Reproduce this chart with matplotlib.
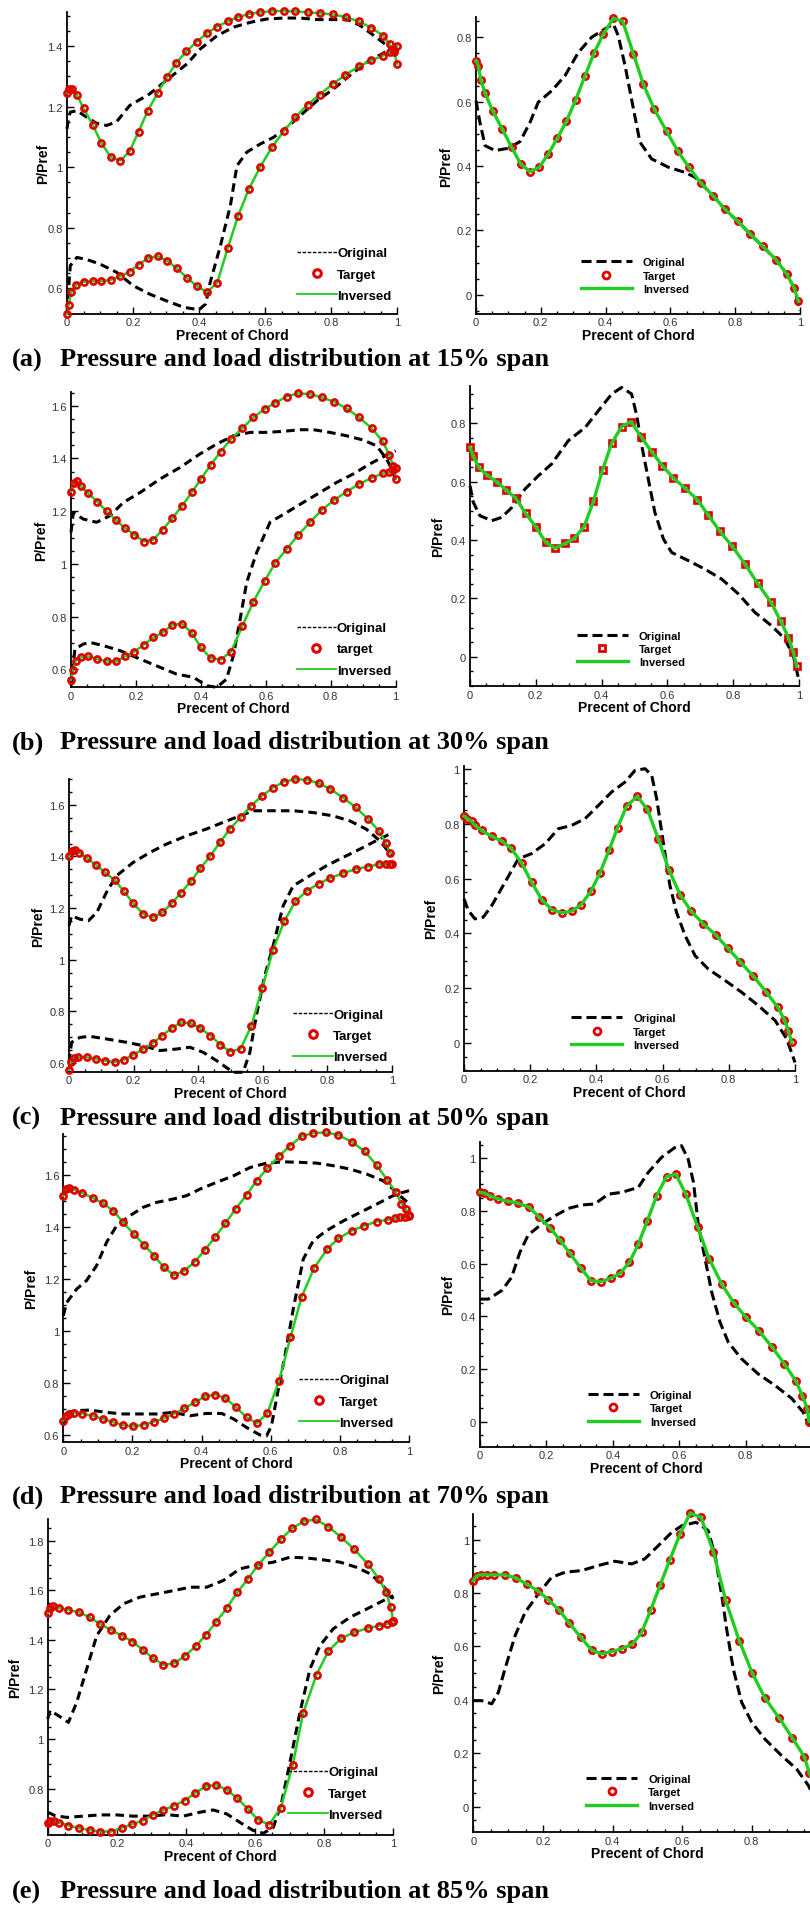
import matplotlib
matplotlib.use("Agg")
import matplotlib.pyplot as plt
from matplotlib.lines import Line2D
from matplotlib.ticker import MultipleLocator, FuncFormatter

plt.rcParams['font.family'] = ['Liberation Sans', 'DejaVu Sans']

RED = '#e00000'
GREEN = '#22cc22'

# ---------------- (a) 15% span ----------------
a_tgt_up_x = [0, 0.007, 0.015, 0.03, 0.05, 0.078, 0.104, 0.133, 0.162, 0.19, 0.217, 0.245, 0.275, 0.303,
              0.331, 0.362, 0.394, 0.424, 0.455, 0.487, 0.518, 0.553, 0.586, 0.621, 0.657, 0.692, 0.729,
              0.766, 0.805, 0.845, 0.884, 0.922, 0.958, 0.978, 0.992, 1.0]
a_tgt_up_y = [1.245, 1.257, 1.257, 1.239, 1.195, 1.14, 1.08, 1.033, 1.022, 1.053, 1.118, 1.187, 1.246, 1.298,
              1.345, 1.383, 1.415, 1.443, 1.465, 1.482, 1.496, 1.507, 1.512, 1.516, 1.516, 1.515, 1.512,
              1.509, 1.505, 1.496, 1.482, 1.461, 1.435, 1.406, 1.38, 1.342]
a_tgt_lo_x = [0, 0.005, 0.013, 0.028, 0.05, 0.078, 0.104, 0.133, 0.162, 0.19, 0.217, 0.245, 0.275, 0.303,
              0.333, 0.364, 0.394, 0.424, 0.455, 0.487, 0.518, 0.551, 0.586, 0.621, 0.657, 0.692, 0.729,
              0.766, 0.805, 0.843, 0.884, 0.922, 0.958, 0.978, 0.99, 1.0]
a_tgt_lo_y = [0.515, 0.545, 0.587, 0.611, 0.622, 0.623, 0.623, 0.628, 0.64, 0.655, 0.678, 0.699, 0.706, 0.691,
              0.666, 0.634, 0.607, 0.587, 0.618, 0.732, 0.838, 0.928, 1.002, 1.066, 1.119, 1.165, 1.207,
              1.24, 1.275, 1.305, 1.333, 1.353, 1.369, 1.38, 1.388, 1.402]
a_org_up_x = [0, 0.005, 0.01, 0.03, 0.06, 0.09, 0.12, 0.15, 0.19, 0.25, 0.30, 0.364, 0.404, 0.455, 0.505,
              0.556, 0.606, 0.657, 0.707, 0.758, 0.808, 0.85, 0.889, 0.93, 0.97, 0.995]
a_org_up_y = [1.127, 1.165, 1.182, 1.187, 1.165, 1.145, 1.138, 1.15, 1.204, 1.242, 1.286, 1.342, 1.391, 1.435,
              1.463, 1.479, 1.49, 1.493, 1.493, 1.488, 1.488, 1.488, 1.468, 1.435, 1.402, 1.38]
a_org_lo_x = [0, 0.005, 0.01, 0.03, 0.06, 0.1, 0.15, 0.2, 0.25, 0.3, 0.354, 0.4, 0.42, 0.434, 0.465, 0.495,
              0.515, 0.545, 0.586, 0.626, 0.667, 0.707, 0.758, 0.808, 0.859, 0.909, 0.96, 0.995]
a_org_lo_y = [0.52, 0.6, 0.675, 0.702, 0.695, 0.68, 0.653, 0.609, 0.581, 0.559, 0.537, 0.529, 0.548, 0.62,
              0.741, 0.873, 1.005, 1.05, 1.077, 1.099, 1.132, 1.171, 1.22, 1.259, 1.305, 1.347, 1.378, 1.397]
a_load_x = [0, 0.007, 0.015, 0.028, 0.051, 0.081, 0.11, 0.138, 0.167, 0.195, 0.223, 0.251, 0.279, 0.308,
            0.336, 0.364, 0.393, 0.424, 0.453, 0.486, 0.516, 0.55, 0.588, 0.622, 0.657, 0.694, 0.733, 0.768,
            0.808, 0.846, 0.885, 0.926, 0.959, 0.982, 0.995]
a_load_y = [0.727, 0.712, 0.667, 0.626, 0.572, 0.515, 0.458, 0.406, 0.382, 0.396, 0.437, 0.486, 0.539, 0.606,
            0.679, 0.75, 0.81, 0.859, 0.849, 0.748, 0.655, 0.577, 0.508, 0.448, 0.396, 0.347, 0.306, 0.266,
            0.228, 0.189, 0.15, 0.109, 0.064, 0.021, -0.021]
a_load_org_x = [0, 0.012, 0.028, 0.059, 0.1, 0.136, 0.167, 0.192, 0.234, 0.275, 0.316, 0.357, 0.398, 0.424,
                0.439, 0.46, 0.486, 0.506, 0.542, 0.594, 0.645, 0.676, 0.733, 0.768, 0.808, 0.846, 0.885,
                0.926, 0.959, 0.982, 1.0]
a_load_org_y = [0.603, 0.536, 0.463, 0.448, 0.455, 0.476, 0.536, 0.598, 0.634, 0.681, 0.753, 0.8, 0.826, 0.841,
                0.805, 0.712, 0.577, 0.474, 0.422, 0.396, 0.38, 0.365, 0.306, 0.266, 0.228, 0.189, 0.15,
                0.109, 0.064, 0.021, -0.05]

# ---------------- (b) 30% span ----------------
b_tgt_up_x = [0, 0.009, 0.02, 0.031, 0.053, 0.081, 0.11, 0.139, 0.166, 0.195, 0.225, 0.254, 0.282, 0.312,
              0.341, 0.372, 0.4, 0.43, 0.461, 0.493, 0.528, 0.562, 0.596, 0.628, 0.664, 0.7, 0.736, 0.772,
              0.81, 0.849, 0.887, 0.926, 0.96, 0.98, 0.993, 1.0]
b_tgt_up_y = [1.274, 1.307, 1.313, 1.294, 1.268, 1.236, 1.199, 1.166, 1.136, 1.111, 1.085, 1.092, 1.13, 1.173,
              1.218, 1.271, 1.322, 1.375, 1.426, 1.474, 1.515, 1.556, 1.587, 1.61, 1.635, 1.647, 1.644, 1.632,
              1.615, 1.59, 1.556, 1.515, 1.465, 1.414, 1.37, 1.324]
b_tgt_lo_x = [0, 0.005, 0.015, 0.031, 0.053, 0.081, 0.11, 0.139, 0.166, 0.195, 0.225, 0.254, 0.282, 0.312,
              0.341, 0.372, 0.4, 0.43, 0.461, 0.493, 0.528, 0.562, 0.596, 0.628, 0.664, 0.7, 0.736, 0.772,
              0.81, 0.849, 0.887, 0.926, 0.96, 0.98, 0.993, 1.0]
b_tgt_lo_y = [0.56, 0.599, 0.633, 0.646, 0.649, 0.639, 0.63, 0.63, 0.649, 0.667, 0.694, 0.721, 0.74, 0.768,
              0.774, 0.738, 0.683, 0.643, 0.637, 0.667, 0.766, 0.857, 0.934, 1.002, 1.056, 1.11, 1.158, 1.204,
              1.242, 1.274, 1.303, 1.326, 1.343, 1.347, 1.357, 1.362]
b_org_up_x = [0, 0.007, 0.038, 0.079, 0.12, 0.161, 0.213, 0.274, 0.336, 0.397, 0.449, 0.5, 0.552, 0.603,
              0.654, 0.705, 0.747, 0.797, 0.849, 0.9, 0.941, 0.972, 0.993, 1.0]
b_org_up_y = [1.12, 1.195, 1.17, 1.158, 1.183, 1.233, 1.271, 1.322, 1.366, 1.417, 1.455, 1.486, 1.499, 1.499,
              1.503, 1.509, 1.509, 1.499, 1.486, 1.47, 1.448, 1.398, 1.347, 1.309]
b_org_lo_x = [0, 0.012, 0.038, 0.059, 0.1, 0.151, 0.213, 0.274, 0.325, 0.377, 0.418, 0.449, 0.479, 0.5,
              0.521, 0.541, 0.572, 0.613, 0.664, 0.715, 0.767, 0.818, 0.869, 0.92, 0.972, 1.0]
b_org_lo_y = [0.538, 0.677, 0.696, 0.702, 0.69, 0.671, 0.639, 0.608, 0.582, 0.57, 0.538, 0.532, 0.563, 0.652,
              0.791, 0.93, 1.044, 1.158, 1.195, 1.233, 1.271, 1.309, 1.341, 1.379, 1.413, 1.429]
b_load_x = [0, 0.01, 0.027, 0.051, 0.081, 0.109, 0.14, 0.169, 0.2, 0.23, 0.258, 0.289, 0.317, 0.347, 0.375,
            0.403, 0.431, 0.461, 0.489, 0.52, 0.552, 0.585, 0.618, 0.653, 0.691, 0.724, 0.76, 0.797, 0.836,
            0.874, 0.915, 0.945, 0.968, 0.983, 0.993]
b_load_y = [0.717, 0.686, 0.648, 0.623, 0.599, 0.572, 0.542, 0.491, 0.445, 0.392, 0.372, 0.388, 0.405, 0.446,
            0.532, 0.64, 0.732, 0.788, 0.805, 0.753, 0.702, 0.654, 0.612, 0.578, 0.538, 0.485, 0.429, 0.378,
            0.317, 0.252, 0.186, 0.121, 0.066, 0.015, -0.033]
b_load_org_x = [0, 0.01, 0.03, 0.066, 0.096, 0.127, 0.167, 0.208, 0.248, 0.299, 0.35, 0.39, 0.431, 0.461,
                0.491, 0.507, 0.522, 0.542, 0.562, 0.588, 0.613, 0.664, 0.714, 0.765, 0.816, 0.866, 0.917,
                0.957, 0.983, 1.0]
b_load_org_y = [0.586, 0.529, 0.483, 0.466, 0.477, 0.511, 0.574, 0.62, 0.66, 0.74, 0.785, 0.842, 0.9, 0.922,
                0.9, 0.825, 0.723, 0.608, 0.494, 0.403, 0.357, 0.329, 0.3, 0.266, 0.215, 0.152, 0.106,
                0.061, 0.003, -0.082]

# ---------------- (c) 50% span ----------------
c_tgt_up_x = [0, 0.008, 0.019, 0.032, 0.055, 0.084, 0.111, 0.142, 0.17, 0.199, 0.23, 0.259, 0.289, 0.318,
              0.346, 0.377, 0.407, 0.438, 0.469, 0.498, 0.531, 0.562, 0.598, 0.632, 0.666, 0.701, 0.737,
              0.773, 0.809, 0.848, 0.888, 0.926, 0.959, 0.98, 0.995]
c_tgt_up_y = [1.4, 1.422, 1.425, 1.415, 1.394, 1.366, 1.338, 1.308, 1.265, 1.218, 1.177, 1.164, 1.183, 1.218,
              1.258, 1.303, 1.354, 1.403, 1.457, 1.506, 1.551, 1.594, 1.635, 1.667, 1.69, 1.699, 1.697,
              1.684, 1.661, 1.628, 1.59, 1.545, 1.499, 1.454, 1.412]
c_tgt_lo_x = [0, 0.006, 0.015, 0.029, 0.055, 0.084, 0.111, 0.142, 0.17, 0.199, 0.23, 0.259, 0.289, 0.318,
              0.346, 0.377, 0.407, 0.438, 0.469, 0.498, 0.531, 0.565, 0.598, 0.632, 0.666, 0.701, 0.737,
              0.773, 0.809, 0.848, 0.888, 0.926, 0.959, 0.98, 0.995, 1.0]
c_tgt_lo_y = [0.573, 0.605, 0.618, 0.622, 0.622, 0.615, 0.609, 0.603, 0.612, 0.632, 0.654, 0.677, 0.706, 0.735,
              0.757, 0.754, 0.734, 0.706, 0.671, 0.644, 0.654, 0.745, 0.89, 1.039, 1.148, 1.226, 1.267,
              1.295, 1.316, 1.335, 1.351, 1.361, 1.37, 1.37, 1.37, 1.37]
c_org_up_x = [0, 0.008, 0.034, 0.06, 0.086, 0.116, 0.147, 0.199, 0.25, 0.302, 0.364, 0.425, 0.477, 0.529,
              0.57, 0.632, 0.694, 0.756, 0.818, 0.869, 0.92, 0.962, 0.987, 1.0]
c_org_up_y = [1.132, 1.17, 1.157, 1.151, 1.183, 1.261, 1.325, 1.377, 1.415, 1.448, 1.48, 1.506, 1.532, 1.557,
              1.577, 1.577, 1.577, 1.57, 1.557, 1.538, 1.506, 1.461, 1.422, 1.403]
c_org_lo_x = [0, 0.008, 0.034, 0.065, 0.116, 0.178, 0.23, 0.281, 0.333, 0.374, 0.416, 0.457, 0.508, 0.539,
              0.56, 0.58, 0.606, 0.632, 0.663, 0.694, 0.745, 0.797, 0.848, 0.9, 0.951, 0.982, 1.0]
c_org_lo_y = [0.603, 0.68, 0.699, 0.703, 0.693, 0.68, 0.667, 0.648, 0.654, 0.661, 0.641, 0.609, 0.564, 0.564,
              0.641, 0.783, 0.938, 1.054, 1.209, 1.286, 1.325, 1.364, 1.396, 1.428, 1.461, 1.48, 1.493]
c_load_x = [0, 0.01, 0.023, 0.033, 0.053, 0.084, 0.114, 0.142, 0.174, 0.204, 0.235, 0.265, 0.295, 0.325,
            0.353, 0.383, 0.411, 0.438, 0.464, 0.491, 0.523, 0.554, 0.587, 0.619, 0.653, 0.686, 0.723, 0.76,
            0.797, 0.834, 0.874, 0.912, 0.948, 0.968, 0.98, 0.99]
c_load_y = [0.828, 0.819, 0.809, 0.794, 0.776, 0.754, 0.737, 0.711, 0.657, 0.587, 0.523, 0.487, 0.475, 0.481,
            0.504, 0.553, 0.621, 0.703, 0.786, 0.864, 0.9, 0.853, 0.745, 0.632, 0.541, 0.481, 0.435, 0.395,
            0.346, 0.297, 0.244, 0.188, 0.13, 0.085, 0.045, 0.002]
c_load_org_x = [0, 0.013, 0.033, 0.058, 0.084, 0.124, 0.164, 0.204, 0.245, 0.285, 0.325, 0.366, 0.406, 0.446,
                0.486, 0.517, 0.547, 0.567, 0.582, 0.602, 0.622, 0.642, 0.668, 0.698, 0.738, 0.789, 0.839,
                0.89, 0.94, 0.975, 1.0]
c_load_org_y = [0.526, 0.484, 0.453, 0.459, 0.502, 0.587, 0.672, 0.691, 0.727, 0.782, 0.794, 0.819, 0.867,
                0.916, 0.952, 0.995, 1.001, 0.977, 0.892, 0.733, 0.575, 0.477, 0.392, 0.319, 0.27, 0.228,
                0.185, 0.136, 0.082, 0.015, -0.071]

# ---------------- (d) 70% span ----------------
d_tgt_up_x = [0, 0.007, 0.016, 0.031, 0.055, 0.085, 0.114, 0.145, 0.173, 0.204, 0.233, 0.262, 0.291, 0.32,
              0.35, 0.381, 0.41, 0.44, 0.469, 0.498, 0.53, 0.559, 0.59, 0.624, 0.656, 0.689, 0.723, 0.76,
              0.795, 0.834, 0.872, 0.906, 0.937, 0.962, 0.978, 0.99, 1.0]
d_tgt_up_y = [1.52, 1.546, 1.55, 1.544, 1.531, 1.512, 1.492, 1.462, 1.418, 1.373, 1.332, 1.29, 1.245, 1.215,
              1.232, 1.267, 1.313, 1.363, 1.415, 1.469, 1.524, 1.578, 1.626, 1.673, 1.713, 1.749, 1.762,
              1.764, 1.754, 1.728, 1.691, 1.638, 1.581, 1.533, 1.49, 1.47, 1.445]
d_tgt_lo_x = [0, 0.007, 0.016, 0.031, 0.055, 0.085, 0.114, 0.145, 0.173, 0.202, 0.233, 0.262, 0.291, 0.32,
              0.35, 0.381, 0.41, 0.44, 0.469, 0.498, 0.53, 0.559, 0.59, 0.624, 0.657, 0.689, 0.725, 0.763,
              0.795, 0.834, 0.87, 0.906, 0.938, 0.959, 0.973, 0.988, 1.0]
d_tgt_lo_y = [0.655, 0.674, 0.681, 0.685, 0.681, 0.674, 0.662, 0.649, 0.638, 0.633, 0.64, 0.651, 0.664, 0.681,
              0.703, 0.726, 0.749, 0.755, 0.741, 0.709, 0.668, 0.645, 0.683, 0.809, 0.976, 1.13, 1.242,
              1.315, 1.356, 1.386, 1.405, 1.421, 1.428, 1.433, 1.437, 1.44, 1.442]
d_org_up_x = [0, 0.01, 0.039, 0.067, 0.096, 0.125, 0.154, 0.193, 0.231, 0.27, 0.318, 0.357, 0.395, 0.443,
              0.492, 0.54, 0.588, 0.636, 0.684, 0.733, 0.781, 0.829, 0.877, 0.925, 0.954, 0.973, 1.0]
d_org_up_y = [1.059, 1.11, 1.162, 1.194, 1.251, 1.341, 1.405, 1.444, 1.476, 1.495, 1.508, 1.521, 1.546, 1.572,
              1.597, 1.629, 1.646, 1.651, 1.649, 1.646, 1.636, 1.623, 1.604, 1.578, 1.546, 1.521, 1.49]
d_org_lo_x = [0, 0.01, 0.039, 0.077, 0.125, 0.173, 0.222, 0.27, 0.318, 0.366, 0.414, 0.458, 0.492, 0.53,
              0.569, 0.588, 0.602, 0.622, 0.641, 0.665, 0.694, 0.723, 0.761, 0.81, 0.858, 0.906, 0.954,
              0.973, 1.0]
d_org_lo_y = [0.636, 0.687, 0.694, 0.696, 0.687, 0.681, 0.681, 0.681, 0.687, 0.674, 0.683, 0.683, 0.662, 0.629,
              0.6, 0.597, 0.636, 0.777, 0.905, 1.085, 1.277, 1.348, 1.386, 1.424, 1.456, 1.488, 1.521,
              1.53, 1.54]
d_load_x = [0, 0.013, 0.03, 0.055, 0.085, 0.115, 0.148, 0.179, 0.211, 0.241, 0.271, 0.304, 0.334, 0.364,
            0.394, 0.422, 0.45, 0.477, 0.504, 0.532, 0.562, 0.59, 0.62, 0.656, 0.69, 0.728, 0.765, 0.801,
            0.84, 0.879, 0.917, 0.951, 0.971, 0.986, 0.991]
d_load_y = [0.87, 0.867, 0.857, 0.845, 0.836, 0.829, 0.813, 0.775, 0.735, 0.689, 0.638, 0.582, 0.535, 0.531,
            0.544, 0.563, 0.604, 0.674, 0.762, 0.857, 0.93, 0.939, 0.863, 0.737, 0.619, 0.522, 0.45, 0.396,
            0.345, 0.284, 0.219, 0.155, 0.099, 0.048, 0.0]
d_load_org_x = [0, 0.025, 0.065, 0.095, 0.12, 0.145, 0.186, 0.226, 0.266, 0.306, 0.346, 0.386, 0.427, 0.477,
                0.507, 0.547, 0.587, 0.607, 0.627, 0.643, 0.658, 0.678, 0.698, 0.723, 0.748, 0.788, 0.838,
                0.889, 0.939, 0.974, 0.991]
d_load_org_y = [0.465, 0.465, 0.497, 0.547, 0.642, 0.708, 0.75, 0.781, 0.809, 0.822, 0.826, 0.863, 0.87, 0.889,
                0.946, 1.003, 1.04, 1.047, 0.996, 0.908, 0.743, 0.617, 0.491, 0.377, 0.301, 0.238, 0.181,
                0.137, 0.088, 0.035, -0.015]

# ---------------- (e) 85% span ----------------
e_tgt_up_x = [0, 0.007, 0.016, 0.034, 0.06, 0.091, 0.121, 0.151, 0.183, 0.214, 0.245, 0.275, 0.304, 0.335,
              0.366, 0.396, 0.428, 0.458, 0.487, 0.518, 0.549, 0.579, 0.609, 0.641, 0.675, 0.708, 0.741,
              0.776, 0.812, 0.848, 0.887, 0.926, 0.959, 0.979, 0.992, 1.0]
e_tgt_up_y = [1.508, 1.528, 1.538, 1.528, 1.52, 1.511, 1.491, 1.464, 1.44, 1.417, 1.393, 1.36, 1.326, 1.299,
              1.305, 1.334, 1.373, 1.42, 1.471, 1.528, 1.592, 1.645, 1.702, 1.753, 1.806, 1.85, 1.878,
              1.885, 1.856, 1.815, 1.765, 1.706, 1.645, 1.592, 1.534, 1.477]
e_tgt_lo_x = [0, 0.007, 0.018, 0.034, 0.06, 0.091, 0.121, 0.151, 0.183, 0.214, 0.245, 0.275, 0.304, 0.335,
              0.366, 0.396, 0.426, 0.457, 0.487, 0.518, 0.549, 0.579, 0.609, 0.641, 0.674, 0.709, 0.739,
              0.778, 0.812, 0.849, 0.887, 0.926, 0.959, 0.981, 0.995, 1.0]
e_tgt_lo_y = [0.662, 0.671, 0.671, 0.662, 0.651, 0.641, 0.633, 0.627, 0.627, 0.641, 0.657, 0.671, 0.694, 0.714,
              0.731, 0.752, 0.781, 0.809, 0.815, 0.795, 0.761, 0.718, 0.674, 0.655, 0.722, 0.895, 1.104,
              1.26, 1.354, 1.406, 1.43, 1.447, 1.457, 1.464, 1.471, 1.477]
e_org_up_x = [0, 0.007, 0.031, 0.06, 0.084, 0.113, 0.142, 0.18, 0.219, 0.267, 0.315, 0.363, 0.412, 0.46,
              0.508, 0.556, 0.605, 0.653, 0.701, 0.749, 0.798, 0.846, 0.894, 0.933, 0.966, 0.99, 1.0]
e_org_up_y = [1.081, 1.115, 1.094, 1.067, 1.148, 1.283, 1.417, 1.498, 1.545, 1.572, 1.585, 1.598, 1.612, 1.612,
              1.639, 1.686, 1.702, 1.713, 1.733, 1.73, 1.722, 1.713, 1.692, 1.666, 1.625, 1.585, 1.565]
e_org_lo_x = [0, 0.021, 0.055, 0.103, 0.151, 0.2, 0.248, 0.296, 0.344, 0.392, 0.441, 0.479, 0.518, 0.556,
              0.595, 0.624, 0.653, 0.677, 0.701, 0.73, 0.759, 0.788, 0.826, 0.875, 0.923, 0.971, 1.0]
e_org_lo_y = [0.705, 0.691, 0.684, 0.689, 0.694, 0.694, 0.689, 0.689, 0.695, 0.689, 0.705, 0.714, 0.698, 0.664,
              0.631, 0.62, 0.644, 0.745, 0.906, 1.108, 1.283, 1.377, 1.444, 1.491, 1.524, 1.558, 1.578]
e_load_x = [0, 0.01, 0.022, 0.038, 0.06, 0.091, 0.123, 0.153, 0.185, 0.216, 0.246, 0.276, 0.309, 0.34, 0.369,
            0.398, 0.426, 0.457, 0.484, 0.51, 0.537, 0.565, 0.594, 0.623, 0.654, 0.69, 0.725, 0.764, 0.802,
            0.838, 0.879, 0.917, 0.951, 0.966, 0.985, 0.995]
e_load_y = [0.846, 0.865, 0.869, 0.868, 0.868, 0.868, 0.856, 0.834, 0.809, 0.775, 0.737, 0.687, 0.634, 0.587,
            0.572, 0.581, 0.591, 0.609, 0.653, 0.737, 0.83, 0.925, 1.021, 1.099, 1.084, 0.955, 0.774, 0.622,
            0.499, 0.407, 0.332, 0.257, 0.187, 0.125, 0.07, 0.01]
e_load_org_x = [0, 0.024, 0.053, 0.072, 0.091, 0.12, 0.149, 0.187, 0.225, 0.264, 0.311, 0.359, 0.407, 0.455,
                0.493, 0.532, 0.57, 0.599, 0.64, 0.675, 0.695, 0.714, 0.728, 0.747, 0.771, 0.8, 0.838, 0.886,
                0.929, 0.963, 0.985]
e_load_org_y = [0.397, 0.397, 0.385, 0.428, 0.516, 0.64, 0.728, 0.797, 0.859, 0.878, 0.884, 0.903, 0.919,
                0.909, 0.928, 0.978, 1.027, 1.052, 1.065, 1.034, 0.94, 0.79, 0.665, 0.516, 0.391, 0.316,
                0.253, 0.191, 0.141, 0.079, 0.02]

tags = ['(a)', '(b)', '(c)', '(d)', '(e)']
spans = ['15%', '30%', '50%', '70%', '85%']
left_labels = [['Original', 'Target', 'Inversed'], ['Original', 'target', 'Inversed'],
               ['Original', 'Target', 'Inversed'], ['Original', 'Target', 'Inversed'],
               ['Original', 'Target', 'Inversed']]
right_labels = ['Original', 'Target', 'Inversed']

W, H = 810, 1908
fig = plt.figure(figsize=(W / 100, H / 100), dpi=100)
fig.patch.set_facecolor('white')

# layout in pixels: x of chord 0, x of chord 1, top px, bottom px
left_boxes = [(67, 397, 13, 315), (71, 395.7, 393.3, 688.3), (69, 392, 780, 1073),
              (63.3, 409.1, 1135, 1443.3), (47.7, 393.3, 1520, 1836)]
left_ylims = [(0.515, 1.513), (0.532, 1.651), (0.565, 1.70), (0.572, 1.758), (0.613, 1.887)]
right_boxes = [(476, 800, 18.3, 315), (470, 799, 386.7, 687.3), (464, 795, 766.7, 1071.7),
               (480, 812, 1143, 1447.7), (473.3, 821.3, 1515, 1833.3)]
right_ylims = [(-0.06, 0.862), (-0.101, 0.928), (-0.101, 1.012), (-0.095, 1.061), (-0.096, 1.096)]
left_ylab_dx = [-23, -29, -30, -31, -32]
right_ylab_dx = [-29, -31, -32, -31, -33]
left_leg = [(297, 275.5), (296.7, 650.3), (293, 1036.8), (299, 1402.5), (288, 1794.5)]
right_leg = [(580.7, 276.7), (576.7, 650), (571, 1032.6), (587.7, 1409.2), (586, 1793.2)]
caption_y = [360, 743, 1118, 1497, 1892]
right_marker = ['o', 's', 'o', 'o', 'o']

surfaces = [
    (a_tgt_up_x, a_tgt_up_y, a_tgt_lo_x, a_tgt_lo_y, a_org_up_x, a_org_up_y, a_org_lo_x, a_org_lo_y),
    (b_tgt_up_x, b_tgt_up_y, b_tgt_lo_x, b_tgt_lo_y, b_org_up_x, b_org_up_y, b_org_lo_x, b_org_lo_y),
    (c_tgt_up_x, c_tgt_up_y, c_tgt_lo_x, c_tgt_lo_y, c_org_up_x, c_org_up_y, c_org_lo_x, c_org_lo_y),
    (d_tgt_up_x, d_tgt_up_y, d_tgt_lo_x, d_tgt_lo_y, d_org_up_x, d_org_up_y, d_org_lo_x, d_org_lo_y),
    (e_tgt_up_x, e_tgt_up_y, e_tgt_lo_x, e_tgt_lo_y, e_org_up_x, e_org_up_y, e_org_lo_x, e_org_lo_y),
]
loads = [
    (a_load_x, a_load_y, a_load_org_x, a_load_org_y),
    (b_load_x, b_load_y, b_load_org_x, b_load_org_y),
    (c_load_x, c_load_y, c_load_org_x, c_load_org_y),
    (d_load_x, d_load_y, d_load_org_x, d_load_org_y),
    (e_load_x, e_load_y, e_load_org_x, e_load_org_y),
]


def px_axes(box):
    x0, x1, yt, yb = box
    return fig.add_axes([x0 / W, 1 - yb / H, (x1 - x0) / W, (yb - yt) / H])


def style_axes(ax, box, ylim, ylab_dx):
    x0, x1, yt, yb = box
    ax.set_xlim(0, 1)
    ax.set_ylim(*ylim)
    ax.patch.set_alpha(0)
    for s in ('top', 'right'):
        ax.spines[s].set_visible(False)
    for s in ('left', 'bottom'):
        ax.spines[s].set_linewidth(1.3)
    yfmt = FuncFormatter(lambda v, p: f'{round(v, 3) + 0:g}')
    # the panel runs past the page edge: the label at chord 1 is not shown there
    last = 1.0 if x1 <= W else 0.99
    xfmt = FuncFormatter(lambda v, p: f'{round(v, 3) + 0:g}' if v <= last + 1e-6 else '')
    for axis, fmt in ((ax.xaxis, xfmt), (ax.yaxis, yfmt)):
        axis.set_major_locator(MultipleLocator(0.2))
        axis.set_minor_locator(MultipleLocator(0.05))
        axis.set_major_formatter(fmt)
    ax.tick_params(which='both', direction='in', width=1)
    ax.tick_params(which='major', length=5, labelsize=8, labelcolor='#333333')
    ax.tick_params(which='minor', length=2.5)
    ax.tick_params(axis='x', pad=2.5)
    ax.tick_params(axis='y', pad=3)
    ax.set_xlabel('Precent of Chord', fontsize=10, fontweight='bold')
    ax.set_ylabel('P/Pref', fontsize=10, fontweight='bold')
    ax.yaxis.set_label_coords((ylab_dx + 6) / (x1 - x0), 0.5)
    ax.xaxis.set_label_coords(0.5, -14 / (yb - yt))


def add_legend(ax, pos, labels, marker, wide):
    x, y = pos
    if wide:
        handles = [Line2D([], [], color='k', lw=1.0, ls=(0, (2.5, 1.2))),
                   Line2D([], [], ls='none', marker=marker, ms=5.5, mfc='white', mec=RED, mew=2.2),
                   Line2D([], [], color=GREEN, lw=1.3)]
        kw = dict(handlelength=3.0, handletextpad=0.05, labelspacing=0.68)
        size = 9.5
    else:
        handles = [Line2D([], [], color='k', lw=2.2, ls=(0, (3.3, 1.6))),
                   Line2D([], [], ls='none', marker=marker, ms=5, mfc='white', mec=RED, mew=2),
                   Line2D([], [], color=GREEN, lw=2.4)]
        kw = dict(handlelength=4.6, handletextpad=1.0, labelspacing=0.3)
        size = 8
    ax.legend(handles, labels, loc='center left', bbox_to_anchor=(x / W, 1 - y / H),
              bbox_transform=fig.transFigure, frameon=False, borderpad=0, borderaxespad=0,
              prop=dict(family='Liberation Sans', weight='bold', size=size), **kw)


for i in range(5):
    # left: pressure distribution
    ax = px_axes(left_boxes[i])
    tux, tuy, tlx, tly, oux, ouy, olx, oly = surfaces[i]
    for xs, ys in ((oux, ouy), (olx, oly)):
        ax.plot(xs, ys, color='k', lw=2.2, ls=(0, (2.8, 1.7)), zorder=2, clip_on=False)
    for xs, ys in ((tux, tuy), (tlx, tly)):
        ax.plot(xs, ys, color=GREEN, lw=1.8, zorder=3, clip_on=False)
        ax.plot(xs, ys, ls='none', marker='o', ms=4.4, mfc='none', mec=RED, mew=1.9,
                zorder=4, clip_on=False)
    style_axes(ax, left_boxes[i], left_ylims[i], left_ylab_dx[i])
    add_legend(ax, left_leg[i], left_labels[i], 'o', True)

    # right: load distribution
    ax = px_axes(right_boxes[i])
    lx, ly, ox, oy = loads[i]
    ax.plot(ox, oy, color='k', lw=2.2, ls=(0, (3.3, 1.6)), zorder=2, clip_on=False)
    ax.plot(lx, ly, ls='none', marker=right_marker[i], ms=4.5, mfc='none', mec=RED, mew=1.9,
            zorder=3, clip_on=False)
    ax.plot(lx, ly, color=GREEN, lw=2.4, zorder=4, clip_on=False)
    style_axes(ax, right_boxes[i], right_ylims[i], right_ylab_dx[i])
    add_legend(ax, right_leg[i], right_labels, right_marker[i], False)

    # caption
    fig.text(12 / W, 1 - caption_y[i] / H, tags[i], family='Liberation Serif', weight='bold',
             size=19, va='center')
    fig.text(60 / W, 1 - caption_y[i] / H, f'Pressure and load distribution at {spans[i]} span',
             family='Liberation Serif', weight='bold', size=19, va='center')

fig.savefig('out.png', dpi=100, facecolor='white')
